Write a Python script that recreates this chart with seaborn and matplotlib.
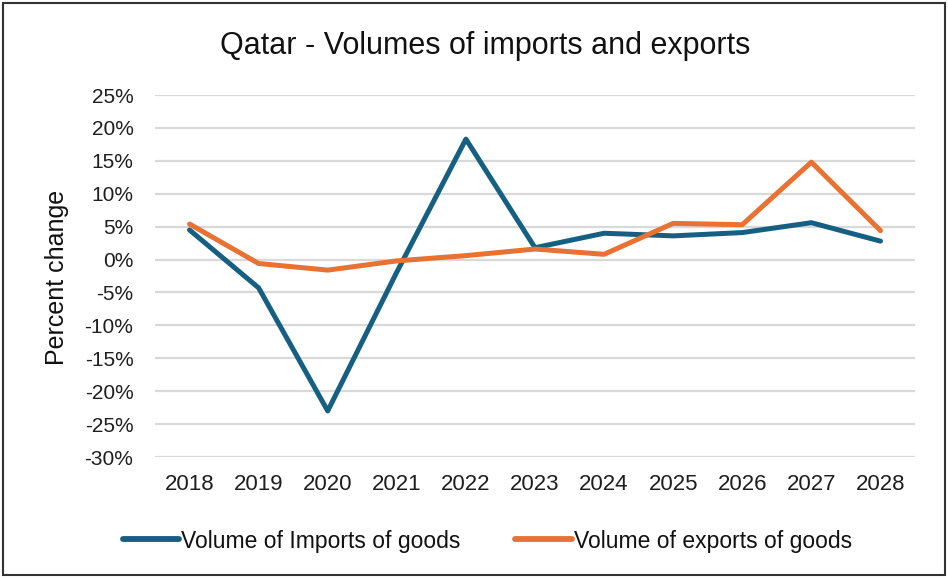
import matplotlib
matplotlib.use("Agg")
import matplotlib.pyplot as plt
from matplotlib.patches import Rectangle
from matplotlib.ticker import FuncFormatter, MultipleLocator
import seaborn as sns
import pandas as pd

years = [2018, 2019, 2020, 2021, 2022, 2023, 2024, 2025, 2026, 2027, 2028]
imports_pct = [4.5, -4.3, -23.0, -1.9, 18.3, 1.8, 4.0, 3.6, 4.1, 5.6, 2.8]
exports_pct = [5.4, -0.6, -1.6, -0.2, 0.6, 1.6, 0.8, 5.5, 5.3, 14.8, 4.4]
series_names = ["Volume of Imports of goods", "Volume of exports of goods"]
series_colors = ["#156082", "#E97132"]

df = pd.DataFrame({
    "Year": years * 2,
    "Change": imports_pct + exports_pct,
    "Series": [series_names[0]] * len(years) + [series_names[1]] * len(years),
})

sns.set_theme(style="white")
plt.rcParams["font.family"] = ["Liberation Sans", "DejaVu Sans"]

fig = plt.figure(figsize=(9.48, 5.78), dpi=100)
ax = fig.add_axes([0.1635, 0.2093, 0.8017, 0.6263])

sns.lineplot(
    data=df, x="Year", y="Change", hue="Series",
    palette=dict(zip(series_names, series_colors)),
    linewidth=3.6, ax=ax, legend=False, sort=False,
)
for line in ax.get_lines():
    line.set_solid_joinstyle("round")
    line.set_solid_capstyle("round")

ax.set_xlim(years[0] - 0.5, years[-1] + 0.5)
ax.set_ylim(-30, 25)
ax.yaxis.set_major_locator(MultipleLocator(5))
ax.yaxis.set_major_formatter(FuncFormatter(lambda v, _: f"{v:.0f}%"))
ax.set_xticks(years)
ax.set_xticklabels([str(y) for y in years])
ax.grid(axis="y", color="#d9d9d9", linewidth=1.6)
ax.set_axisbelow(True)
for s in ax.spines.values():
    s.set_visible(False)
ax.tick_params(axis="both", length=0, colors="#1e1e1e")
ax.tick_params(axis="x", labelsize=16, pad=12)
ax.tick_params(axis="y", labelsize=15, pad=15.5)

ax.set_xlabel("")
ax.set_ylabel("")
fig.text(57 / 948, 1 - 277 / 578, "Percent change", rotation=90,
         ha="center", va="center", fontsize=18, color="#111111")

fig.text(0.512, 0.92, "Qatar - Volumes of imports and exports",
         ha="center", va="center", fontsize=22, color="#111111")

handles = [plt.Line2D([0], [0], color=c, linewidth=4.2, solid_capstyle="round")
           for c in series_colors]
fig.legend(handles, series_names, loc="center", bbox_to_anchor=(0.514, 0.064),
           ncol=2, frameon=False, fontsize=16.5, handlelength=2.45,
           handletextpad=0.1, columnspacing=2.4, labelcolor="#111111")

fig.patches.append(Rectangle((0.003, 0.005), 0.994, 0.99, transform=fig.transFigure,
                             fill=False, edgecolor="#333333", linewidth=1.5))

fig.savefig("out.png", dpi=100)
